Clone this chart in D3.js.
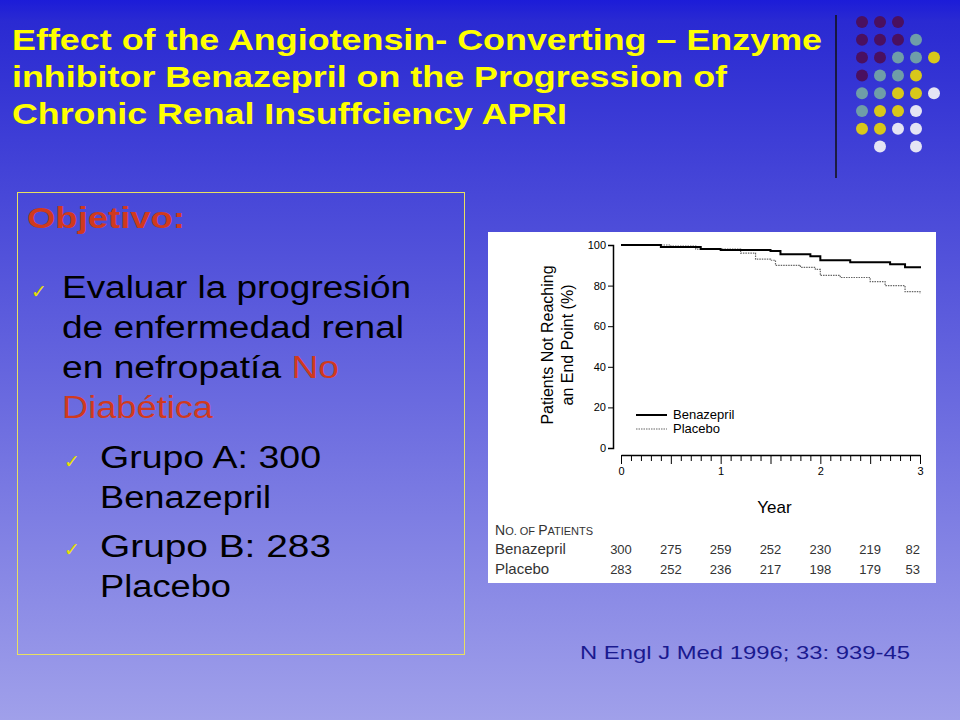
<!DOCTYPE html>
<html><head><meta charset="utf-8">
<script src="https://cdn.jsdelivr.net/npm/d3@7"></script>
<style>body{margin:0}svg{display:block}</style>
</head><body>
<svg id="c" width="960" height="720"></svg>
<script>
const titleLines = ['Effect of the Angiotensin- Converting – Enzyme', 'inhibitor Benazepril on the Progression of', 'Chronic Renal Insuffciency APRI'];
const titleWidths = [810, 715, 555];
const benazepril = [[0,100],[0.4,99],[0.8,98],[1.0,97.5],[1.5,97],[1.6,95.5],[1.9,94.5],[2.0,92.5],[2.3,91.5],[2.5,91.5],[2.7,90.5],[2.85,89],[3,88.5]];
const placebo = [[0,100],[0.5,99.5],[0.75,98],[1.0,98],[1.2,96],[1.35,93],[1.5,92.5],[1.55,90],[1.8,89],[1.95,88],[2.0,85],[2.2,84],[2.5,82],[2.65,80],[2.85,77],[3,76]];
const atRiskYears = [0, 0.5, 1, 1.5, 2, 2.5, 3];
const atRiskBenazepril = [300, 275, 259, 252, 230, 219, 82];
const atRiskPlacebo = [283, 252, 236, 217, 198, 179, 53];
const yTicks = [0, 20, 40, 60, 80, 100];
const xTicks = [0, 1, 2, 3];
// dot grid: P purple, T teal, Y yellow, W white
const dotRows = ['PPP..', 'PPPT.', 'PPTTY', 'PTTY.', 'TTYYW', 'TYYW.', 'YYWW.', '.W.W.'];
const dotColors = {P: '#4a1060', T: '#6f9ea8', Y: '#d8c81a', W: '#e4e4f4'};

const svg = d3.select('#c');
const defs = svg.append('defs');
const g = defs.append('linearGradient').attr('id', 'bg').attr('x1', 0).attr('x2', 0).attr('y1', 0).attr('y2', 1);
g.append('stop').attr('offset', '0').attr('stop-color', '#1c1cd8');
g.append('stop').attr('offset', '0.03').attr('stop-color', '#2a2ad2');
g.append('stop').attr('offset', '1').attr('stop-color', '#a0a0ea');
svg.append('rect').attr('width', 960).attr('height', 720).attr('fill', 'url(#bg)');

const f = 'Liberation Sans, Arial';
const LA = 'spacingAndGlyphs';
svg.append('g').selectAll('text').data(titleLines).join('text')
  .attr('x', 12).attr('y', (d, i) => 50 + i * 37)
  .attr('fill', '#ffff00').attr('font-family', f).attr('font-weight', 'bold').attr('font-size', 30)
  .attr('textLength', (d, i) => titleWidths[i]).attr('lengthAdjust', LA)
  .text(d => d);

svg.append('line').attr('x1', 836).attr('x2', 836).attr('y1', 15).attr('y2', 178).attr('stroke', '#111').attr('stroke-width', 1.5);
dotRows.forEach((row, r) => row.split('').forEach((c, k) => {
  if (c === '.') return;
  svg.append('circle').attr('cx', 862 + k * 18).attr('cy', 22 + r * 17.8).attr('r', 6).attr('fill', dotColors[c]);
}));

// left box
svg.append('rect').attr('x', 17.5).attr('y', 192.5).attr('width', 447).attr('height', 462).attr('fill', 'none').attr('stroke', '#e8e060').attr('stroke-width', 1);
svg.append('text').attr('x', 27).attr('y', 228).attr('font-family', f).attr('font-weight', 'bold').attr('font-size', 30).attr('fill', '#d03a1e')
  .attr('textLength', 158).attr('lengthAdjust', LA).text('Objetivo:');
const check = (x, y) => svg.append('text').attr('x', x).attr('y', y).attr('font-family', 'DejaVu Sans').attr('font-size', 19).attr('fill', '#e8e000').text('✓');
check(31, 298); check(64, 468); check(64, 556);
const body = [['Evaluar la progresión', 62, 298, 349], ['de enfermedad renal', 62, 338, 342], ['Grupo A: 300', 100, 468, 221], ['Benazepril', 100, 508, 171], ['Grupo B:  283', 100, 557, 231], ['Placebo', 100, 597, 131]];
body.forEach(([t, x, y, w]) => svg.append('text').attr('x', x).attr('y', y).attr('font-family', f).attr('font-size', 31).attr('fill', '#000')
  .attr('textLength', w).attr('lengthAdjust', LA).text(t));
svg.append('text').attr('x', 62).attr('y', 378).attr('font-family', f).attr('font-size', 31).attr('fill', '#000')
  .attr('textLength', 277).attr('lengthAdjust', LA)
  .text('en nefropatía ').append('tspan').attr('fill', '#d03a1e').text('No');
svg.append('text').attr('x', 62).attr('y', 418).attr('font-family', f).attr('font-size', 31).attr('fill', '#d03a1e')
  .attr('textLength', 151).attr('lengthAdjust', LA).text('Diabética');

svg.append('text').attr('x', 580).attr('y', 659).attr('font-family', f).attr('font-size', 18).attr('fill', '#1a1a90')
  .attr('textLength', 330).attr('lengthAdjust', LA).text('N Engl J Med 1996; 33: 939-45');

// chart panel
svg.append('rect').attr('x', 488).attr('y', 232).attr('width', 448).attr('height', 351).attr('fill', '#fff');
const x = d3.scaleLinear().domain([0, 3]).range([621, 920]);
const y = d3.scaleLinear().domain([0, 100]).range([448, 245]);
const yAx = svg.append('g').attr('transform', 'translate(613,0)')
  .call(d3.axisLeft(y).tickValues(yTicks).tickSize(5).tickPadding(2));
yAx.selectAll('text').attr('font-family', f).attr('font-size', 11);
const xAx = svg.append('g').attr('transform', 'translate(0,455)')
  .call(d3.axisBottom(x).ticks(36).tickSize(6).tickFormat(d => xTicks.includes(d) ? d : '').tickSizeOuter(0));
xAx.selectAll('.tick').filter(d => xTicks.includes(d) || Math.abs(d * 2 - Math.round(d * 2)) < 1e-6).select('line').attr('y2', 9);
xAx.selectAll('text').attr('font-family', f).attr('font-size', 11).attr('dy', '1em');
svg.selectAll('.domain').attr('stroke-width', 1.5);

const line = d3.line().curve(d3.curveStepAfter).x(d => x(d[0])).y(d => y(d[1]));
svg.append('path').attr('d', line(placebo)).attr('fill', 'none').attr('stroke', '#666').attr('stroke-width', 1.2).attr('stroke-dasharray', '1.5,1');
svg.append('path').attr('d', line(benazepril)).attr('fill', 'none').attr('stroke', '#000').attr('stroke-width', 2);

svg.append('line').attr('x1', 636).attr('x2', 667).attr('y1', 415).attr('y2', 415).attr('stroke', '#000').attr('stroke-width', 2);
svg.append('line').attr('x1', 636).attr('x2', 667).attr('y1', 429).attr('y2', 429).attr('stroke', '#666').attr('stroke-width', 1.2).attr('stroke-dasharray', '1.5,1');
svg.append('text').attr('x', 673).attr('y', 419).attr('font-family', f).attr('font-size', 13).text('Benazepril');
svg.append('text').attr('x', 673).attr('y', 433).attr('font-family', f).attr('font-size', 13).text('Placebo');

svg.append('text').attr('transform', 'translate(553,345) rotate(-90)').attr('text-anchor', 'middle').attr('font-family', f).attr('font-size', 16).text('Patients Not Reaching');
svg.append('text').attr('transform', 'translate(573,345) rotate(-90)').attr('text-anchor', 'middle').attr('font-family', f).attr('font-size', 16).text('an End Point (%)');
svg.append('text').attr('x', x(1.5) + 4).attr('y', 513).attr('text-anchor', 'middle').attr('font-family', f).attr('font-size', 17).text('Year');

const hdr = svg.append('text').attr('x', 495).attr('y', 535).attr('font-family', f).attr('font-size', 14).attr('fill', '#333');
hdr.append('tspan').text('N'); hdr.append('tspan').attr('font-size', 11).text('O. OF ');
hdr.append('tspan').text('P'); hdr.append('tspan').attr('font-size', 11).text('ATIENTS');
[['Benazepril', atRiskBenazepril, 554], ['Placebo', atRiskPlacebo, 574]].forEach(([name, vals, yy]) => {
  svg.append('text').attr('x', 495).attr('y', yy).attr('font-family', f).attr('font-size', 15).attr('fill', '#333').text(name);
  svg.append('g').selectAll('text').data(vals).join('text')
    .attr('x', (d, i) => Math.min(x(atRiskYears[i]), 920)).attr('y', yy).attr('text-anchor', (d, i) => i === vals.length - 1 ? 'end' : 'middle')
    .attr('font-family', f).attr('font-size', 13).attr('fill', '#333').text(d => d);
});
</script>
</body></html>
